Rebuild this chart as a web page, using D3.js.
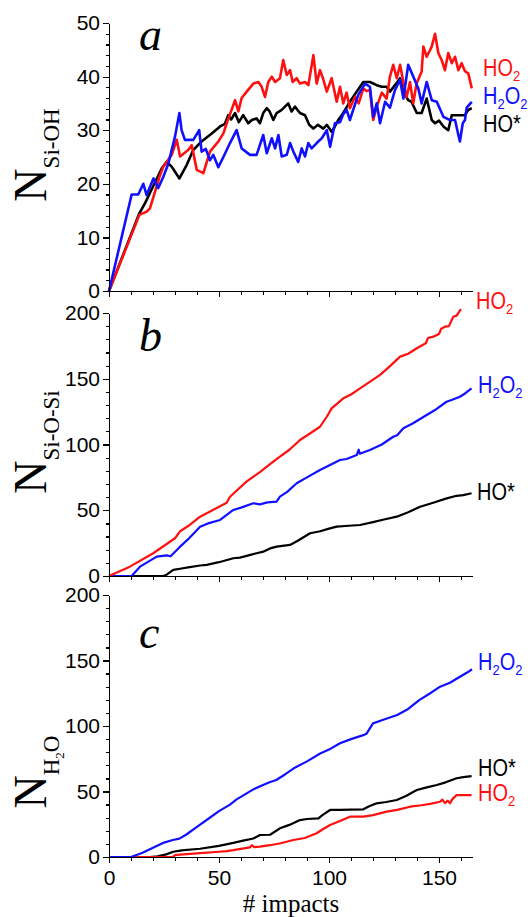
<!DOCTYPE html>
<meta charset="utf-8">
<style>
body { margin: 0; background: #fff; }
.axis path, .axis line { stroke: #000; stroke-width: 1.2px; shape-rendering: crispEdges; }
.axis text { font: 21px "Liberation Sans", Arial, sans-serif; fill: #000; }
.line { fill: none; stroke-linejoin: round; }
</style>
<body>
<script src="https://cdn.jsdelivr.net/npm/d3@7/dist/d3.min.js"></script>
<script>
//------------------------ DATA ------------------------//
// [# impacts, count]

// panel a : N Si-OH
const aHO2 = [[0,0],[13.8,14.2],[17.1,14.8],[18.6,15.4],[20.9,18.5],[23.2,21.6],[24.7,23.2],[28.5,25.4],[30.8,28.2],[32.3,25.1],[36,26.3],[37.6,27.2],[39.9,22.6],[42.9,22],[45.9,26],[49.7,27.9],[52,29.4],[53.5,31.3],[55,33],[57.3,35.6],[58.8,33.5],[60.3,36],[62.6,37.2],[65.6,38.7],[67.9,39],[69.4,38.1],[70.9,36.2],[72.4,39],[74,40],[75.5,39],[77.7,39.7],[79.2,43.1],[80.8,40.3],[82.3,41.2],[83.5,39],[85.3,39.7],[86.8,38.7],[89.1,39],[90.6,38.4],[92.9,44],[94.4,38.7],[95.9,41.2],[97.4,39.5],[99,37.2],[101.2,39.7],[103.5,35.3],[105,38.1],[106.5,35],[108,37],[109.5,34.1],[111.8,36.2],[113.5,35],[115.6,37.8],[117.1,37.3],[118.6,37.5],[120.1,31.9],[121.7,34.4],[124,37],[126.2,35.9],[127.7,40],[129.2,42.2],[130.8,39.7],[132.3,42.2],[133.8,39],[135.3,36.2],[136.8,39],[138.3,35],[139.8,38.7],[142.1,40.9],[142.9,45.6],[144.4,43.7],[146.7,45.6],[148.2,48],[149.7,44.4],[151.2,43.1],[152.7,41.2],[154.2,44.4],[155.8,42.5],[157.3,43.7],[158.8,41.2],[160.3,42.5],[161.8,41],[163.3,40.6],[164.9,37.8]];
const aH2O2 = [[0,0],[10.3,18],[13.3,18],[15.6,20],[17.1,17.9],[20.2,21],[22.4,19.2],[24.7,21.3],[27,23.8],[30,28.8],[32,33.2],[33,30],[34.5,28.2],[38.3,28.2],[41,30],[42.1,26],[44,26.5],[45.9,24.4],[47.4,25.4],[49.7,23.1],[52,25],[55,27.6],[58,30],[60.3,26.6],[64.1,25.4],[67.1,25.4],[70.1,29.1],[71.7,25.7],[74,28.5],[75.5,26.6],[77,29.1],[78.5,25.1],[80.8,25.4],[82.3,27.6],[83.8,26],[86,24.1],[87.6,26.6],[89.1,25.1],[90.6,27.6],[92.1,26.6],[94.4,27.6],[96.7,28.5],[99,30],[100.5,26.9],[102.7,31.3],[105,31.5],[106.5,33],[108,33.8],[109.5,31.9],[111,33.8],[113.3,36.6],[116.4,38.7],[118.6,38.1],[120.1,32.5],[121.7,35],[123.2,31.3],[125.5,35.3],[127.7,34.2],[130,37.5],[132.3,39.4],[133.8,35.9],[136,42.2],[138.3,40],[140.6,37.8],[142.1,35],[144.4,39],[146.7,35.6],[149,35.3],[152,32.5],[155,31.9],[157.3,31.9],[158.8,29.1],[159.5,27.9],[160.8,31.3],[161.8,31.9],[162.6,34.2],[164.9,35.3]];
const aHO = [[0,0],[13.8,14.5],[16.4,16.4],[20,19.5],[24,22.9],[26.2,24.1],[28.5,23.2],[32,21],[35.3,23.5],[38.3,26.3],[42.1,27.9],[46.7,29.4],[50.5,30.7],[52.7,31.2],[54.2,32.8],[55.5,32],[57.3,33.2],[59,31.5],[61,32.8],[63.3,31.3],[64.9,31.9],[67.1,32.2],[68.6,31.3],[70.1,33.2],[71.7,34.1],[73,33.5],[74.7,31.9],[76.2,33.2],[78.5,33.8],[81.5,35],[83,33.5],[84.5,34.4],[86.8,33.2],[89.1,32.8],[91,31],[92.9,30.3],[95,31],[97.4,30.3],[99,31],[101.2,29.7],[102.7,30.7],[104.2,31.9],[105.8,32.8],[107.3,33.8],[109.5,35.3],[112.6,37.2],[115.6,39],[118.6,39],[121.7,38.4],[124,38.1],[126.2,38.1],[127.7,37.2],[130,38.4],[132.3,39.7],[133.8,37.2],[136,35.6],[137.5,35.3],[139.9,33.2],[142.1,33.2],[144.4,35.9],[146.7,31.9],[148.2,31.3],[150,31.8],[152,30.7],[154.2,30],[155.8,32.8],[158.8,32.8],[161.8,32.8],[163.3,33.8],[164.9,34.1]];

// panel b : N Si-O-Si
const bHO2 = [[0,0],[9.5,7.1],[20.1,17.3],[30,28.7],[32.3,34],[36,38],[41.4,45.1],[47,50],[53.5,55.7],[55,60.3],[62.6,72],[68.6,79],[73.2,85],[77.7,90.7],[82,96],[86.8,103.4],[91,108],[95.9,113.5],[99,121.1],[101.2,127.5],[106.5,135.1],[110,138],[114.1,142.7],[118,147],[123.2,152.9],[128,160],[132.3,166.8],[136,169],[139.9,173.2],[144,177],[145,181],[147.4,182],[150,184],[151,188],[152.7,189.6],[154.5,190],[156.5,197.2],[158,198],[159.5,201.8],[160,203]];
const bH2O2 = [[0,0],[10.3,0],[14.1,7.1],[21.7,14.7],[26.2,15.7],[28,15],[32.3,22.3],[36,28],[41.4,37.5],[45,40],[50.5,42.6],[56.5,50.2],[60,52],[65.6,55.3],[68.6,54.5],[72,56],[76.2,56.5],[77.7,60.3],[81,64],[85.3,70.5],[90,75],[95.9,80.6],[100,84],[105,88.2],[108,89],[112.6,92],[113.5,96],[114,93],[118.6,95.8],[124,100],[129.2,105.9],[131,107],[133.8,112.3],[138,116],[144.4,122.4],[148,126],[153.4,132.5],[156,134],[159.5,136.3],[162,139],[164.8,142.7]];
const bHO = [[0,0],[24.7,0],[26.2,1],[29.2,4.6],[32.3,5.5],[36,6.5],[41.4,8],[44.4,8.5],[50,10.5],[56.5,13.5],[59.5,14],[63,15.5],[67.1,17.3],[70.1,18.5],[73.2,21],[76.2,22.3],[82.3,23.6],[86,27],[91.4,32.5],[96,34],[100,36],[103.5,37.5],[109,38.2],[114.1,38.8],[120,41],[125,43],[130.8,45.1],[136,48.5],[141.4,52.7],[147,55.5],[153.5,59],[158,61],[161,61.5],[164.8,62.9]];

// panel c : N H2O
const cHO2 = [[0,0],[29,0],[30,1.5],[32.3,1.8],[41.4,2.9],[50,4],[53.5,4.5],[56.5,5.2],[62,6.8],[64.1,7.4],[65,9],[66,7.5],[68.6,7.9],[73.2,9],[78,10.5],[83.8,13],[89,14.5],[94.4,18.1],[97,21],[100.5,24.4],[105,27.5],[109.5,30.8],[115.6,30.8],[120,32],[126.2,34.6],[131,36],[136.8,38.4],[142,39.5],[146,40.5],[150.5,42.2],[151.5,43.8],[152.7,41.2],[154,43],[155,41],[156,44],[158,47.3],[164.8,47.3]];
const cH2O2 = [[0,0],[10,0],[15,3],[20,7],[25,11],[29,13],[32,14],[35,17],[40,23],[45,29],[50,35],[55,40],[58,44],[62,48],[66,52],[70,55],[73,57],[76,58.8],[80,63],[84,67.7],[90,73],[96,79],[100,82],[105,86.8],[110,90],[115.6,93],[117,94],[120,102],[125,105],[131,108.4],[136,113],[141,119.8],[146,125],[150.5,130],[155,133],[159.5,137.6],[163,141],[165,143.3]];
const cHO = [[0,0],[18.6,0],[22,0.5],[26,2],[29.2,4],[33,5],[41.4,6.3],[50,8.5],[56.5,10.8],[61,12.5],[65.6,14.1],[68.6,16.8],[73.2,17],[77.7,21.9],[82,24.5],[86.8,28.2],[90,29],[95.2,29.5],[97,32],[100.5,35.9],[105,36],[110,36.2],[115.6,36.4],[118,38.5],[121.7,41],[126,42],[130.8,43.5],[135,46.5],[139.9,51.1],[144,53],[149,55],[153,57],[158,60.1],[161,61],[164.8,61.8]];

// series names, as [text, subscript?] pieces
const nameHO2 = [["HO",0],["2",1]];
const nameH2O2 = [["H",0],["2",1],["O",0],["2",1]];
const nameHO = [["HO*",0]];

const xTicksMajor = [0, 50, 100, 150];
const xDomain = [0, 165];

//------------------------ LAYOUT ------------------------//
const W = 531, H = 917;
const red = "#ff1010", blue = "#1010ff", black = "#000";

const svg = d3.select("body").append("svg")
    .attr("width", W).attr("height", H);

const x = d3.scaleLinear().domain(xDomain).range([109, 472]);

const panels = [
  { letter: "a", yMax: 50, top: 23, bottom: 291, minor: 2, major: 10, lw: 2.6,
    sub: [["Si-OH", 0]], letterY: 50, labelY: 155,
    series: [[black, aHO], [red, aHO2], [blue, aH2O2]],
    names: [[red, nameHO2, 483, 76], [blue, nameH2O2, 483, 104], [black, nameHO, 483, 132]] },
  { letter: "b", yMax: 200, top: 313, bottom: 576, minor: 10, major: 50, lw: 2.2,
    sub: [["Si-O-Si", 0]], letterY: 351, labelY: 442,
    series: [[black, bHO], [blue, bH2O2], [red, bHO2]],
    names: [[red, nameHO2, 476, 309], [blue, nameH2O2, 478, 393], [black, nameHO, 477, 500]] },
  { letter: "c", yMax: 200, top: 595, bottom: 857, minor: 10, major: 50, lw: 2.2,
    sub: [["H", 0], ["2", 1], ["O", 0]], letterY: 648, labelY: 772, xLabels: true,
    series: [[black, cHO], [red, cHO2], [blue, cH2O2]],
    names: [[blue, nameH2O2, 478, 670], [black, nameHO, 478, 776], [red, nameHO2, 478, 801]] }
];

panels.forEach(function(p) {
  const y = d3.scaleLinear().domain([0, p.yMax]).range([p.bottom, p.top]);
  const g = svg.append("g");

  // lines
  const line = d3.line().x(d => x(d[0])).y(d => y(d[1]));
  p.series.forEach(function(s) {
    g.append("path").datum(s[1])
      .attr("class", "line")
      .attr("stroke", s[0])
      .attr("stroke-width", p.lw)
      .attr("d", line);
  });

  // y axis
  g.append("g").attr("class", "axis").attr("transform", "translate(109,0)")
    .call(d3.axisLeft(y).tickValues(d3.range(0, p.yMax + 0.1, p.minor))
      .tickSize(3).tickSizeOuter(0).tickFormat(""));
  g.append("g").attr("class", "axis").attr("transform", "translate(109,0)")
    .call(d3.axisLeft(y).tickValues(d3.range(0, p.yMax + 0.1, p.major))
      .tickSize(6).tickSizeOuter(0).tickPadding(3));

  // x axis
  g.append("g").attr("class", "axis").attr("transform", "translate(0," + p.bottom + ")")
    .call(d3.axisBottom(x).tickValues(d3.range(0, 165, 10))
      .tickSize(4).tickSizeOuter(0).tickFormat(""));
  g.append("g").attr("class", "axis").attr("transform", "translate(0," + p.bottom + ")")
    .call(d3.axisBottom(x).tickValues(xTicksMajor)
      .tickSize(6).tickSizeOuter(0).tickPadding(7)
      .tickFormat(p.xLabels ? d3.format("d") : ""));

  // panel letter
  g.append("text")
    .attr("x", 139).attr("y", p.letterY)
    .style("font", "italic 46px 'Liberation Serif', 'Times New Roman', serif")
    .text(p.letter);

  // y label: N with subscript, rotated
  const yl = g.append("text")
    .attr("transform", "translate(46," + p.labelY + ") rotate(-90)")
    .attr("text-anchor", "middle")
    .style("font-family", "'Liberation Serif', 'Times New Roman', serif");
  yl.append("tspan").style("font-size", "46px").text("N");
  p.sub.forEach(function(s, i) {
    const extra = s[1] ? 5 : 0;
    const dy = (i === 0 ? 13 : 0) + extra - (i > 0 && p.sub[i - 1][1] ? 5 : 0);
    yl.append("tspan")
      .style("font-size", s[1] ? "13px" : "23px")
      .attr("dy", dy)
      .text(s[0]);
  });

  // series names at the right
  p.names.forEach(function(n) {
    const t = g.append("text")
      .attr("transform", "translate(" + n[2] + "," + n[3] + ") scale(1,1.15)")
      .attr("fill", n[0])
      .style("font-family", "'Liberation Sans', Arial, sans-serif");
    n[1].forEach(function(piece, i) {
      const prevSub = i > 0 && n[1][i - 1][1];
      const dy = (piece[1] ? 4 : 0) - (prevSub ? 4 : 0);
      t.append("tspan")
        .style("font-size", piece[1] ? "13px" : "20px")
        .attr("dy", dy)
        .text(piece[0]);
    });
  });
});

// x axis title
svg.append("text")
  .attr("x", 291).attr("y", 912)
  .attr("text-anchor", "middle")
  .style("font", "25px 'Liberation Serif', 'Times New Roman', serif")
  .text("# impacts");
</script>
</body>
